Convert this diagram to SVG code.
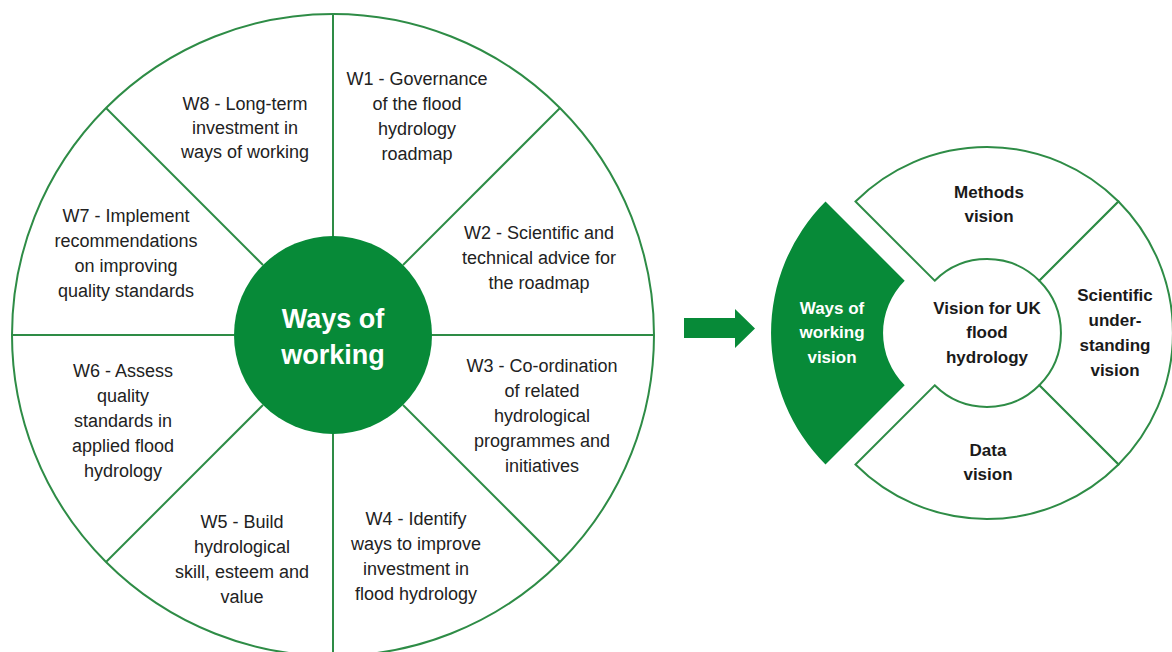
<svg xmlns="http://www.w3.org/2000/svg" width="1172" height="652" viewBox="0 0 1172 652">
<style>
.ring{fill:#fff;stroke:#2E8C46;stroke-width:2}
.spoke{stroke:#2E8C46;stroke-width:2;fill:none}
.hub{fill:#078A38}
.t{font-family:"Liberation Sans",Arial,sans-serif;font-size:18px;fill:#222;text-anchor:middle}
.hubt{font-family:"Liberation Sans",Arial,sans-serif;font-size:27px;font-weight:bold;fill:#fff;text-anchor:middle}
.seg{fill:#fff;stroke:#2E8C46;stroke-width:2;stroke-linejoin:miter}
.segg{fill:#078A38}
.b{font-family:"Liberation Sans",Arial,sans-serif;font-size:17px;font-weight:bold;fill:#1a1a1a;text-anchor:middle}
.bw{font-family:"Liberation Sans",Arial,sans-serif;font-size:17px;font-weight:bold;fill:#fff;text-anchor:middle}
</style>
<rect width="1172" height="652" fill="#fff"/>
<g id="wheel">
<circle class="ring" cx="333" cy="335" r="321"/>
<g class="spoke">
<line x1="333" y1="236" x2="333" y2="14"/>
<line x1="403" y1="265" x2="560" y2="108"/>
<line x1="432" y1="335" x2="654" y2="335"/>
<line x1="403" y1="405" x2="560" y2="562"/>
<line x1="333" y1="434" x2="333" y2="656"/>
<line x1="263" y1="405" x2="106" y2="562"/>
<line x1="234" y1="335" x2="12" y2="335"/>
<line x1="263" y1="265" x2="106" y2="108"/>
</g>
</g>
<g id="hub">
<circle class="hub" cx="333" cy="335" r="99"/>
<text class="hubt" x="333" y="328">Ways of</text>
<text class="hubt" x="333" y="364">working</text>
</g>
<g id="w1"><text class="t" x="417" y="85">W1 - Governance</text><text class="t" x="417" y="110">of the flood</text><text class="t" x="417" y="135">hydrology</text><text class="t" x="417" y="160">roadmap</text></g>
<g id="w2"><text class="t" x="539" y="239">W2 - Scientific and</text><text class="t" x="539" y="264">technical advice for</text><text class="t" x="539" y="289">the roadmap</text></g>
<g id="w3"><text class="t" x="542" y="372">W3 - Co-ordination</text><text class="t" x="542" y="397">of related</text><text class="t" x="542" y="422">hydrological</text><text class="t" x="542" y="447">programmes and</text><text class="t" x="542" y="472">initiatives</text></g>
<g id="w4"><text class="t" x="416" y="525">W4 - Identify</text><text class="t" x="416" y="550">ways to improve</text><text class="t" x="416" y="575">investment in</text><text class="t" x="416" y="600">flood hydrology</text></g>
<g id="w5"><text class="t" x="242" y="528">W5 - Build</text><text class="t" x="242" y="553">hydrological</text><text class="t" x="242" y="578">skill, esteem and</text><text class="t" x="242" y="603">value</text></g>
<g id="w6"><text class="t" x="123" y="377">W6 - Assess</text><text class="t" x="123" y="402">quality</text><text class="t" x="123" y="427">standards in</text><text class="t" x="123" y="452">applied flood</text><text class="t" x="123" y="477">hydrology</text></g>
<g id="w7"><text class="t" x="126" y="222">W7 - Implement</text><text class="t" x="126" y="247">recommendations</text><text class="t" x="126" y="272">on improving</text><text class="t" x="126" y="297">quality standards</text></g>
<g id="w8"><text class="t" x="245" y="110">W8 - Long-term</text><text class="t" x="245" y="134">investment in</text><text class="t" x="245" y="158">ways of working</text></g>
<g id="connectors">
<polygon class="hub" points="684,318 735,318 735,309 755,328.5 735,348 735,338 684,338"/>
</g>
<g id="methods">
<path class="seg" d="M855.5,201.5 A186,186 0 0 1 1118.5,201.5 L1039.3,280.7 A74,74 0 0 0 934.7,280.7 Z"/>
<text class="b" x="989" y="198">Methods</text><text class="b" x="989" y="222">vision</text>
</g>
<g id="scientific">
<path class="seg" d="M1118.5,201.5 A186,186 0 0 1 1118.5,464.5 L1039.3,385.3 A74,74 0 0 0 1039.3,280.7 Z"/>
<text class="b" x="1115" y="301">Scientific</text><text class="b" x="1115" y="326">under-</text><text class="b" x="1115" y="351">standing</text><text class="b" x="1115" y="376">vision</text>
</g>
<g id="data">
<path class="seg" d="M1118.5,464.5 A186,186 0 0 1 855.5,464.5 L934.7,385.3 A74,74 0 0 0 1039.3,385.3 Z"/>
<text class="b" x="988" y="456">Data</text><text class="b" x="988" y="480">vision</text>
</g>
<g id="ways-vision">
<path class="segg" d="M825.5,464.5 A186,186 0 0 1 825.5,201.5 L904.7,280.7 A74,74 0 0 0 904.7,385.3 Z"/>
<text class="bw" x="832" y="314">Ways of</text><text class="bw" x="832" y="338">working</text><text class="bw" x="832" y="363">vision</text>
</g>
<g id="vision-uk">
<text class="b" x="987" y="314">Vision for UK</text><text class="b" x="987" y="338">flood</text><text class="b" x="987" y="363">hydrology</text>
</g>
</svg>
